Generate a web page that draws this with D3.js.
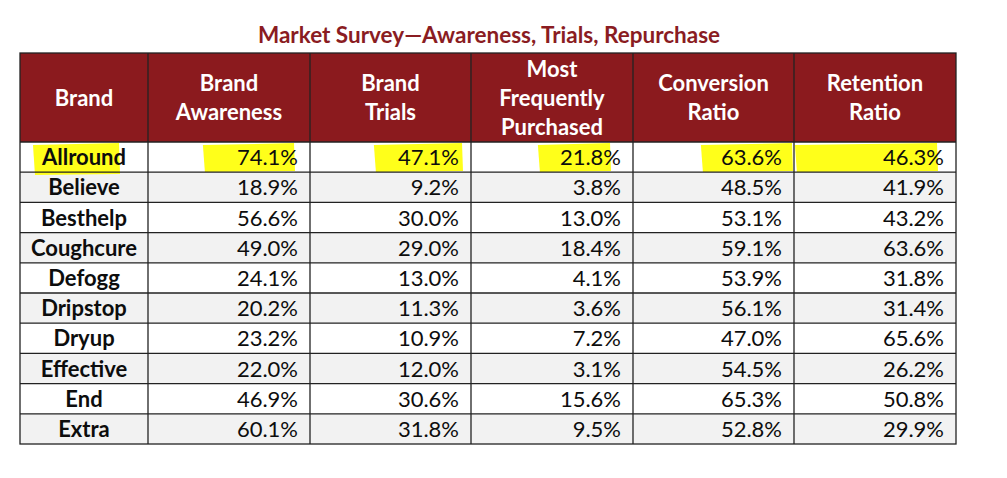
<!DOCTYPE html>
<html>
<head>
<meta charset="utf-8">
<script src="https://cdn.jsdelivr.net/npm/d3@7"></script>
<style>
  body { margin: 0; background: #fff; }
  svg { display: block; font-family: Lato, "Open Sans", sans-serif; }
</style>
</head>
<body>
<svg id="chart" width="1007" height="478"></svg>
<script>
// market survey table
const title = 'Market Survey\u2014Awareness, Trials, Repurchase';
const headers = [['Brand'], ['Brand', 'Awareness'], ['Brand', 'Trials'], ['Most', 'Frequently', 'Purchased'], ['Conversion', 'Ratio'], ['Retention', 'Ratio']];
const brands = ['Allround', 'Believe', 'Besthelp', 'Coughcure', 'Defogg', 'Dripstop', 'Dryup', 'Effective', 'End', 'Extra'];
const awareness = [74.1, 18.9, 56.6, 49.0, 24.1, 20.2, 23.2, 22.0, 46.9, 60.1];
const trials = [47.1, 9.2, 30.0, 29.0, 13.0, 11.3, 10.9, 12.0, 30.6, 31.8];
const mostFrequent = [21.8, 3.8, 13.0, 18.4, 4.1, 3.6, 7.2, 3.1, 15.6, 9.5];
const conversion = [63.6, 48.5, 53.1, 59.1, 53.9, 56.1, 47.0, 54.5, 65.3, 52.8];
const retention = [46.3, 41.9, 43.2, 63.6, 31.8, 31.4, 65.6, 26.2, 50.8, 29.9];
const highlighted = 'Allround';

const series = [awareness, trials, mostFrequent, conversion, retention];
const colEdges = [20, 148, 310, 471, 633, 794, 956];
const headTop = 53, headBottom = 142, rowH = 30.2;
const fs = 22;

const svg = d3.select('#chart');
const fmt = d3.format('.1f');

const y = d3.scaleBand()
    .domain(brands)
    .range([headBottom, headBottom + rowH * brands.length]);

// title
svg.append('text')
    .attr('x', 489)
    .attr('y', 43)
    .attr('text-anchor', 'middle')
    .attr('font-size', 22.5)
    .attr('font-weight', 700)
    .attr('fill', '#8a1c22')
    .text(title);

// header band
svg.append('rect')
    .attr('x', colEdges[0]).attr('y', headTop)
    .attr('width', colEdges[6] - colEdges[0]).attr('height', headBottom - headTop)
    .attr('fill', '#8b1a1e');

const head = svg.append('g');
headers.forEach(function (lines, i) {
    const cx = (colEdges[i] + colEdges[i + 1]) / 2;
    const mid = (headTop + headBottom) / 2;
    const lh = 29;
    lines.forEach(function (ln, j) {
        head.append('text')
            .attr('x', cx)
            .attr('y', mid + (j - (lines.length - 1) / 2) * lh + 8)
            .attr('text-anchor', 'middle')
            .attr('font-size', fs)
            .attr('font-weight', 700)
            .attr('fill', '#fff')
            .text(ln);
    });
});

// row backgrounds
svg.append('g').selectAll('rect')
    .data(brands)
    .enter().append('rect')
    .attr('x', colEdges[0])
    .attr('y', d => y(d))
    .attr('width', colEdges[6] - colEdges[0])
    .attr('height', y.bandwidth())
    .attr('fill', (d, i) => i % 2 ? '#f2f2f2' : '#fff');

const hl = svg.append('g');

const rows = svg.append('g').selectAll('g')
    .data(brands)
    .enter().append('g');

rows.append('text')
    .attr('x', (colEdges[0] + colEdges[1]) / 2)
    .attr('y', d => y(d) + y.bandwidth() / 2 + 8)
    .attr('text-anchor', 'middle')
    .attr('font-size', fs)
    .attr('font-weight', 700)
    .attr('fill', '#0d0d0d')
    .text(d => d);

series.forEach(function (vals, c) {
    rows.append('text')
        .attr('x', colEdges[c + 2] - 12)
        .attr('y', d => y(d) + y.bandwidth() / 2 + 8)
        .attr('text-anchor', 'end')
        .attr('font-size', fs)
        .attr('fill', '#0d0d0d')
        .text((d, i) => fmt(vals[i]) + '%');
});

// highlighter strokes on the first row (extra on left / right of the text)
const hlPads = [[8, -7], [34, -4], [24, 3], [22, -11], [20, 10], [88, -7]];
rows.filter(d => d === highlighted).selectAll('text').each(function (d, i) {
    const b = this.getBBox();
    const p = hlPads[i];
    const x0 = b.x - p[0], x1 = b.x + b.width + p[1];
    const top = b.y, bot = b.y + b.height + (i === 0 ? 5 : 2);
    hl.append('path')
        .attr('d', `M${x0},${top + 2} L${x1},${top} L${x1 + 1},${bot - 1} L${x0 + 2},${bot} Z`)
        .attr('fill', '#ffff1a');
});

// grid lines
const grid = svg.append('g').attr('stroke', '#222').attr('stroke-width', 1.3);
brands.slice(1).forEach(function (b) {
    grid.append('line')
        .attr('x1', colEdges[0]).attr('x2', colEdges[6])
        .attr('y1', y(b)).attr('y2', y(b));
});
grid.append('line')
    .attr('x1', colEdges[0]).attr('x2', colEdges[6])
    .attr('y1', headBottom).attr('y2', headBottom);
colEdges.slice(1, -1).forEach(function (x) {
    grid.append('line')
        .attr('x1', x).attr('x2', x)
        .attr('y1', headTop).attr('y2', y.range()[1]);
});
grid.append('rect')
    .attr('x', colEdges[0]).attr('y', headTop)
    .attr('width', colEdges[6] - colEdges[0])
    .attr('height', y.range()[1] - headTop)
    .attr('fill', 'none');
</script>
</body>
</html>
